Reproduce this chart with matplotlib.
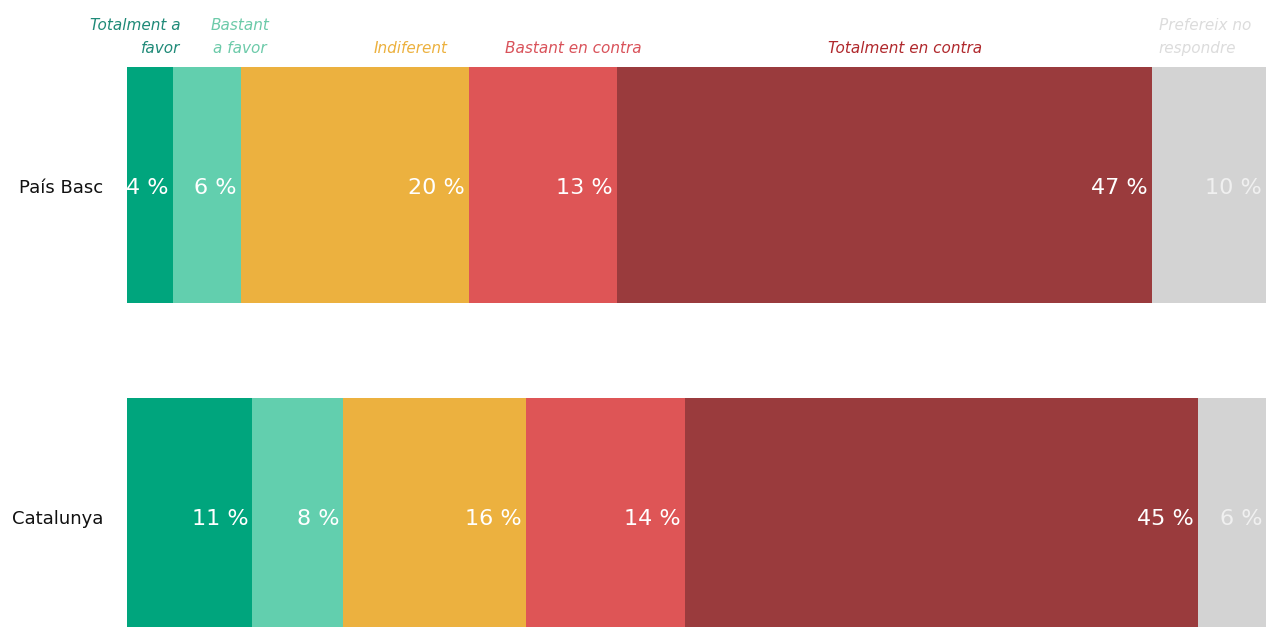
import matplotlib
matplotlib.use('Agg')
import matplotlib.pyplot as plt
import numpy as np

# data
regions = ['País Basc', 'Catalunya']
answers = ['Totalment a\nfavor', 'Bastant\na favor', 'Indiferent',
           'Bastant en contra', 'Totalment en contra', 'Prefereix no\nrespondre']
pais_basc = [4, 6, 20, 13, 47, 10]
catalunya = [11, 8, 16, 14, 45, 6]

bar_colors = ['#00a57d', '#62cfae', '#ecb13f', '#de5556', '#9a3b3d', '#d3d3d3']
head_colors = ['#1f8a78', '#6ccaa9', '#ecb13f', '#d9525a', '#b0282c', '#dcdcdc']
value_colors = ['white', 'white', 'white', 'white', 'white', '#f0f0f0']

# where the header labels sit (in percent units) and how they are aligned
head_pos = [(4.7, 'right'), (9.9, 'center'), (24.9, 'center'),
            (39.2, 'center'), (68.3, 'center'), (90.6, 'left')]

W, H = 1266, 627
fig = plt.figure(figsize=(W / 100, H / 100), dpi=100)
ax = fig.add_axes([127 / W, 0, 1 - 127 / W, 1])

values = np.array([pais_basc, catalunya])
ypos = np.arange(len(regions))
left = np.zeros(len(regions))
for j in range(len(answers)):
    ax.barh(ypos, values[:, j], left=left, height=0.713,
            color=bar_colors[j], linewidth=0)
    for i in range(len(regions)):
        ax.text(left[i] + values[i, j] - 0.35, ypos[i] + 0.01,
                '%d %%' % values[i, j], color=value_colors[j],
                ha='right', va='center', fontsize=16)
    left += values[:, j]

ax.set_xlim(0, 100)
ax.set_ylim(1.335, -0.559)
ax.axis('off')

for name, (x, ha), c in zip(answers, head_pos, head_colors):
    ax.text(x, -0.39, name, color=c, ha=ha, va='bottom', fontsize=11,
            style='italic', family='DejaVu Sans', linespacing=1.65,
            multialignment=ha)

for i, name in enumerate(regions):
    ax.text(-2.1, ypos[i] + 0.01, name, ha='right', va='center',
            fontsize=13, color='#111111', clip_on=False)

plt.savefig('out.png', dpi=100)
plt.close()
